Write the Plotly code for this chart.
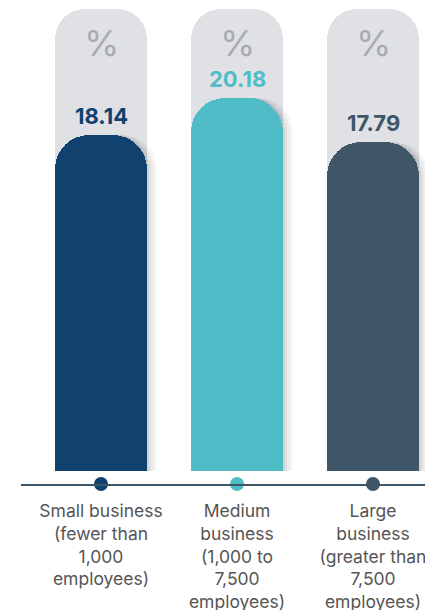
import plotly.graph_objects as go

categories = ["Small business<br>(fewer than<br>1,000<br>employees)",
              "Medium<br>business<br>(1,000 to<br>7,500<br>employees)",
              "Large<br>business<br>(greater than<br>7,500<br>employees)"]
values = [18.14, 20.18, 17.79]
value_labels = ["18.14", "20.18", "17.79"]
bg_max = [25, 25, 25]
colors = ["#11416f", "#4fbcc8", "#3e5667"]

x = [0, 1, 2]
W_PX = 404
PX_PER_X = 136
PX_PER_Y = 18.5
BAR_W = 92 / PX_PER_X
x0 = -(101 - 21) / PX_PER_X
x1 = x0 + W_PX / PX_PER_X
y0 = -13 / PX_PER_Y
y1 = y0 + 484 / PX_PER_Y

fig = go.Figure()
# background grey pills (base subplot)
fig.add_trace(go.Bar(x=x, y=bg_max, width=BAR_W, offset=-BAR_W / 2,
                     marker=dict(color="#dfe1e5", cornerradius=30, line_width=0),
                     hoverinfo="skip", showlegend=False))
# soft shadows to the right (overlay subplot)
for d, a in [(10, 0.04), (7, 0.05), (4, 0.06), (2, 0.07)]:
    fig.add_trace(go.Bar(x=x, y=values, width=BAR_W, offset=-BAR_W / 2 + d / PX_PER_X,
                         marker=dict(color=f"rgba(40,45,55,{a})", cornerradius=34, line_width=0),
                         xaxis="x2", yaxis="y2", hoverinfo="skip", showlegend=False))
# main bars
fig.add_trace(go.Bar(x=x, y=values, width=BAR_W, offset=-BAR_W / 2,
                     marker=dict(color=colors, cornerradius=34, line_width=0),
                     xaxis="x2", yaxis="y2", showlegend=False))
# dots on axis
fig.add_trace(go.Scatter(x=x, y=[y0] * 3, mode="markers", marker=dict(size=14, color=colors),
                         xaxis="x2", yaxis="y2", cliponaxis=False, showlegend=False))

for xi in x:
    fig.add_annotation(x=xi, y=bg_max[xi], yshift=-34, text="%", showarrow=False,
                       font=dict(family="Inter", size=36, color="#a9abb0"))
    fig.add_annotation(x=xi, y=values[xi], yanchor="bottom", yshift=4, text=value_labels[xi], showarrow=False,
                       font=dict(family="Inter", size=22, color=colors[xi], weight=700))

fig.update_layout(
    width=425, height=610, barmode="overlay", bargap=0,
    margin=dict(l=21, r=0, t=0, b=126),
    paper_bgcolor="white", plot_bgcolor="white",
    xaxis=dict(range=[x0, x1], tickvals=x, ticktext=categories, showgrid=False, zeroline=False,
               showline=True, linecolor="#3e5667", linewidth=2, ticks="", ticklabelstandoff=10,
               ticklabeloverflow="allow", automargin=False,
               tickfont=dict(family="Inter", size=17.5, color="#555555")),
    yaxis=dict(range=[y0, y1], visible=False, showgrid=False, zeroline=False, automargin=False),
    xaxis2=dict(range=[x0, x1], overlaying="x", visible=False, showgrid=False, zeroline=False, automargin=False),
    yaxis2=dict(range=[y0, y1], overlaying="y", visible=False, showgrid=False, zeroline=False, automargin=False),
)

fig.write_html("out.html")
